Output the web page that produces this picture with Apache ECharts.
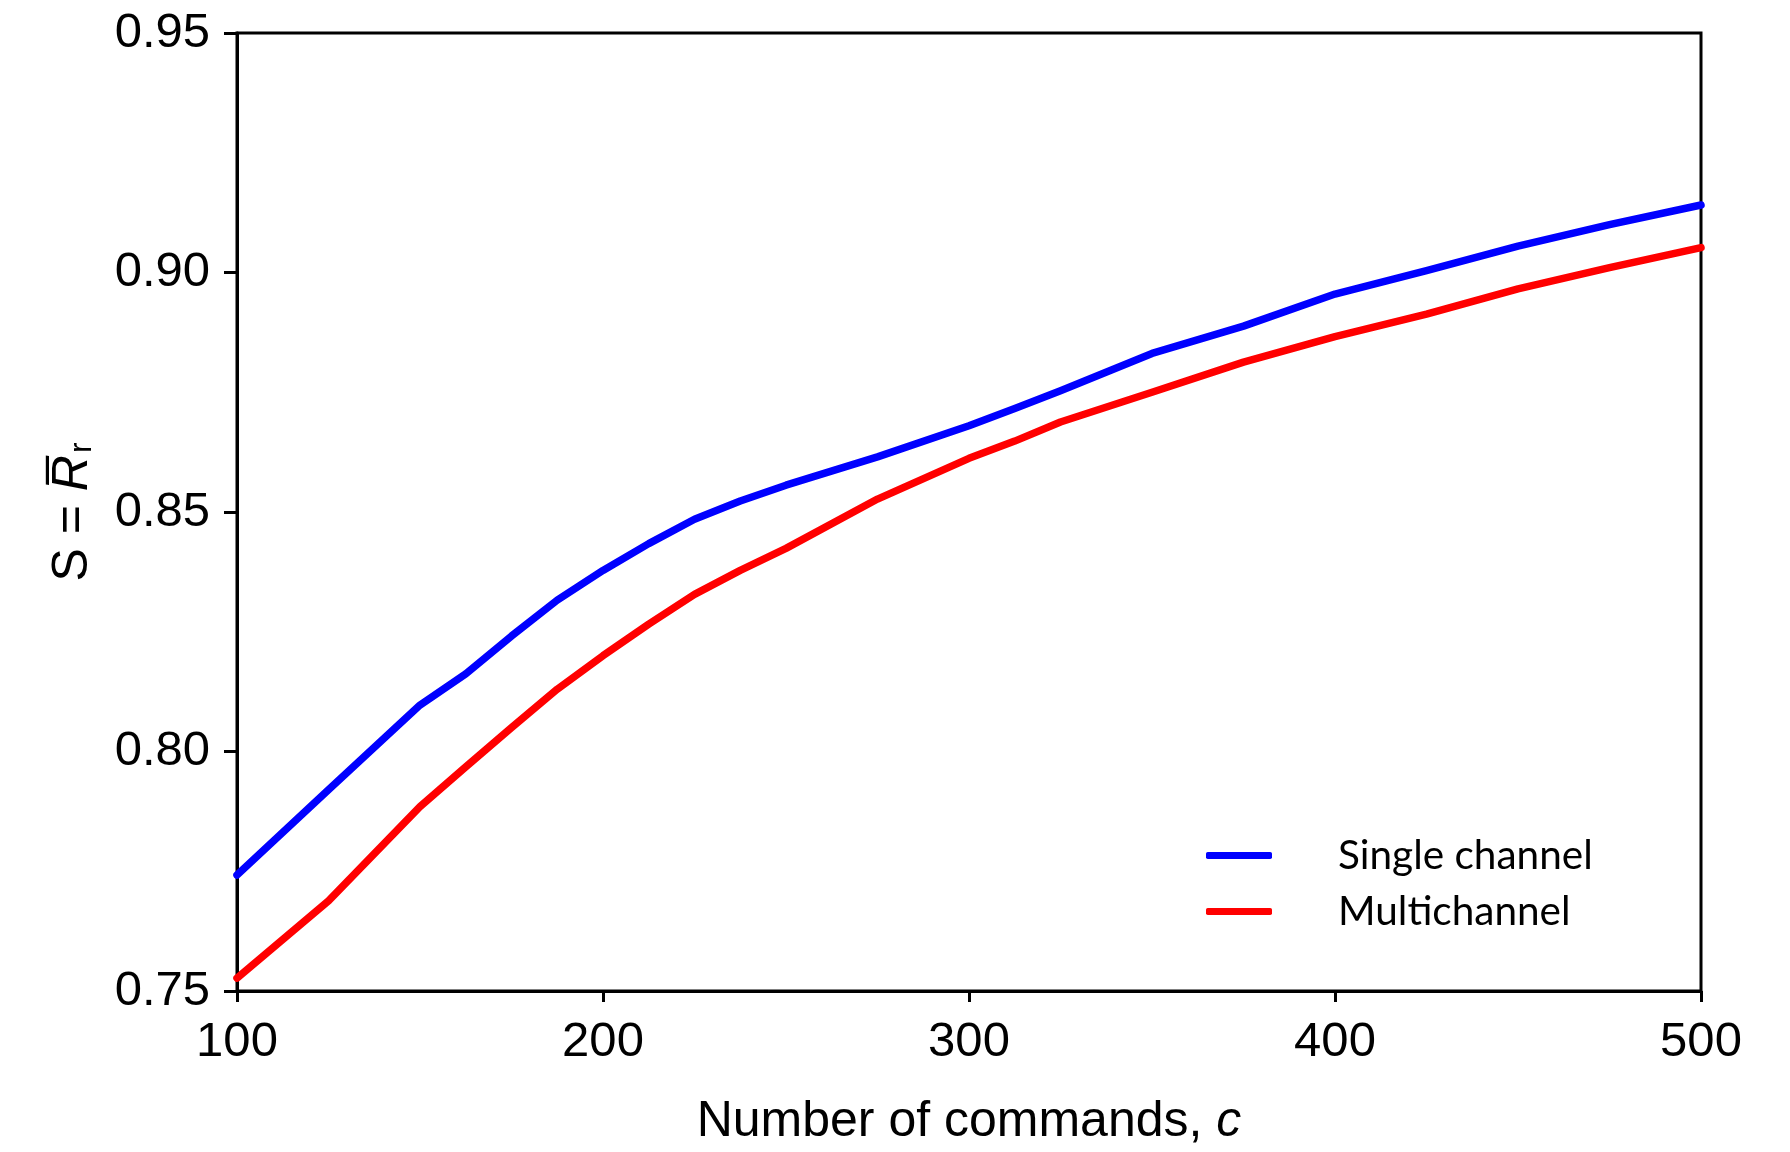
<!DOCTYPE html>
<html>
<head>
<meta charset="utf-8">
<script src="https://cdn.jsdelivr.net/npm/echarts@6/dist/echarts.min.js"></script>
<style>
html,body{margin:0;padding:0;background:#fff;}
#chart{width:1790px;height:1152px;}
</style>
</head>
<body>
<div id="chart"></div>
<script>
const commands = [100, 125, 150, 162.5, 175, 187.5, 200, 212.5, 225, 237.5, 250, 275, 300, 312.5, 325, 350, 375, 400, 425, 450, 475, 500];
const singleChannel = [0.7742, 0.7920, 0.8097, 0.8162, 0.8241, 0.8316, 0.8378, 0.8434, 0.8485, 0.8523, 0.8556, 0.8615, 0.8680, 0.8716, 0.8753, 0.8831, 0.8888, 0.8955, 0.9004, 0.9055, 0.9100, 0.9141];
const multichannel = [0.7527, 0.7688, 0.7885, 0.7968, 0.8050, 0.8130, 0.8200, 0.8266, 0.8328, 0.8378, 0.8424, 0.8527, 0.8612, 0.8648, 0.8688, 0.8750, 0.8813, 0.8866, 0.8913, 0.8966, 0.9010, 0.9052];
const seriesNames = ['Single channel', 'Multichannel'];
const seriesColors = ['#0000ff', '#ff0000'];
const xTicks = [100, 200, 300, 400, 500];
const yTicks = [0.75, 0.80, 0.85, 0.90, 0.95];

const chart = echarts.init(document.getElementById('chart'), null, {renderer: 'canvas'});
const pairs = (ys) => commands.map((c, i) => [c, ys[i]]);

chart.setOption({
  backgroundColor: '#fff',
  animation: false,
  grid: {left: 237, right: 89, top: 33, bottom: 159, show: true, borderColor: '#000', borderWidth: 3, backgroundColor: 'transparent'},
  legend: {
    orient: 'vertical',
    left: 1201,
    top: 830,
    itemWidth: 66,
    itemHeight: 7,
    itemGap: 15,
    icon: 'roundRect',
    data: seriesNames.map((n, i) => ({name: n, itemStyle: {color: seriesColors[i]}})),
    textStyle: {fontFamily: 'Lato', fontSize: 40.5, color: '#000', padding: [0, 0, 0, 61]}
  },
  xAxis: {
    type: 'value',
    min: xTicks[0], max: xTicks[xTicks.length - 1], interval: 100,
    name: '{n|Number of commands, }{i|c}',
    nameLocation: 'middle',
    nameGap: 106,
    nameTextStyle: {
      rich: {
        n: {fontFamily: 'Liberation Sans', fontSize: 50, color: '#000'},
        i: {fontFamily: 'Liberation Sans', fontSize: 50, fontStyle: 'italic', color: '#000'}
      }
    },
    axisLine: {show: true, lineStyle: {color: '#000', width: 3}},
    axisTick: {show: true, inside: false, length: 11, lineStyle: {color: '#000', width: 3}},
    axisLabel: {fontFamily: 'Liberation Sans', fontSize: 49, color: '#000', margin: 27},
    splitLine: {show: false}
  },
  yAxis: {
    type: 'value',
    min: yTicks[0], max: yTicks[yTicks.length - 1], interval: 0.05,
    name: '{s|S = }{r|R\u0305}{sub|r}',
    nameLocation: 'middle',
    nameGap: 139,
    nameTextStyle: {
      rich: {
        s: {fontFamily: 'Liberation Sans', fontSize: 50, color: '#000'},
        r: {fontFamily: 'Liberation Sans', fontSize: 50, fontStyle: 'italic', color: '#000'},
        sub: {fontFamily: 'Liberation Sans', fontSize: 32, color: '#000', verticalAlign: 'bottom', padding: [0, 0, 0, 2]}
      }
    },
    axisLine: {show: true, lineStyle: {color: '#000', width: 3}},
    axisTick: {show: true, inside: false, length: 13, lineStyle: {color: '#000', width: 3}},
    axisLabel: {fontFamily: 'Liberation Sans', fontSize: 49, color: '#000', margin: 27, formatter: v => v.toFixed(2)},
    splitLine: {show: false}
  },
  series: [
    {name: seriesNames[0], type: 'line', data: pairs(singleChannel), showSymbol: false, symbol: 'none', color: seriesColors[0], lineStyle: {color: seriesColors[0], width: 7.5, cap: 'round', join: 'round'}},
    {name: seriesNames[1], type: 'line', data: pairs(multichannel), showSymbol: false, symbol: 'none', color: seriesColors[1], lineStyle: {color: seriesColors[1], width: 7.5, cap: 'round', join: 'round'}}
  ]
});
</script>
</body>
</html>
